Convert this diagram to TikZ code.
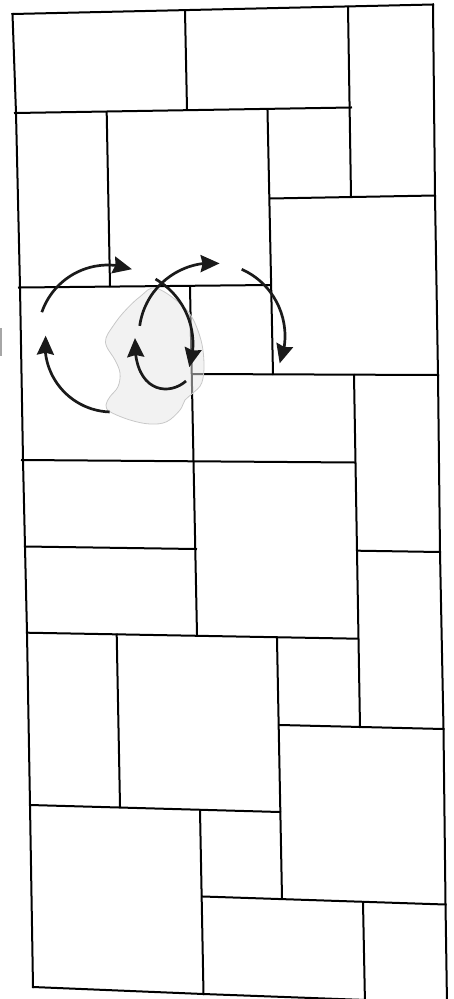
\documentclass[tikz,border=0pt]{standalone}
\usetikzlibrary{arrows.meta,bending}
\definecolor{arrowc}{HTML}{1A1A1A}
\definecolor{blobfill}{HTML}{E6E6E6}
\definecolor{blobline}{HTML}{C8C8C8}
\begin{document}
\begin{tikzpicture}[x=1pt,y=-1pt,
  tile/.style={line width=2pt, line join=miter, line cap=rect, black},
  circ/.style={line width=2.7pt, draw=arrowc, -{Stealth[length=19pt 0,width=17pt 0,inset=2pt]}},
  blob/.style={fill=blobfill, fill opacity=0.5, draw=blobline, line width=0.8pt}]
\useasboundingbox (0,0) rectangle (453,999);
\begin{scope}
\clip (0,0) rectangle (453,999);
% outer frame
\draw[tile] (12.5,14) -- (433,4.5);
\draw[tile] (12.5,14) -- (16,113) -- (20,287) -- (23,460) -- (25,547) -- (27,633) -- (30,805) -- (33,987);
\draw[tile] (433,4.5) -- (435,196) -- (438,375) -- (440,552) -- (443.5,729) -- (445.5,904) -- (447,1004);
\draw[tile] (33,987) -- (203.5,994) -- (447,1003);
% inner lines
\draw[tile] (185,11) -- (187,109.5);
\draw[tile] (348,7) -- (351,196);
\draw[tile] (15,113) -- (351,107.5);
\draw[tile] (106.7,113) -- (110,286);
\draw[tile] (267.5,110.5) -- (273,374);
\draw[tile] (270,198.5) -- (435,195.5);
\draw[tile] (19,287.5) -- (270,285);
\draw[tile] (190,287) -- (197,635);
\draw[tile] (193,374) -- (438,375);
\draw[tile] (22,460) -- (355,462.5);
\draw[tile] (354,375) -- (360,727);
\draw[tile] (25,546.5) -- (196,549);
\draw[tile] (358,550.7) -- (440,552);
\draw[tile] (27,632.7) -- (358,638.7);
\draw[tile] (116.7,634.5) -- (120,806);
\draw[tile] (277,639) -- (282,898);
\draw[tile] (280,725) -- (443.5,729);
\draw[tile] (30,805) -- (280,812);
\draw[tile] (200,810) -- (203.5,994);
\draw[tile] (203,896.5) -- (445.5,904.5);
\draw[tile] (363,902) -- (365,1004);
\end{scope}
% left edge mark
\draw[gray!70, line width=2pt] (1,328) -- (1,356);
% blob
\draw[blob] plot[smooth cycle, tension=0.6] coordinates {
  (156.7,288.3) (186.7,310) (200,336.7) (204,363) (201.7,383) (193,393)
  (185,400) (180,410) (166.7,421.7) (150,424) (130,420) (110,411.7)
  (106,405) (110,396.7) (118,386.7) (120,373) (115,360) (106.7,346.7)
  (106,338) (111.7,328) (123,313) (140,296.7)};
% circulation arrows
\draw[circ] ([shift={(92:67)}]112,345) arc[start angle=92, end angle=188, radius=67];
\draw[circ] ([shift={(199:70)}]108,335) arc[start angle=199, end angle=290, radius=70];
\draw[circ] ([shift={(188:73)}]212,336) arc[start angle=188, end angle=276, radius=73];
\draw[circ] ([shift={(294:73)}]212,336) arc[start angle=294, end angle=382, radius=73];
\draw[circ] ([shift={(300:75)}]118,344) arc[start angle=300, end angle=378, radius=75];
\draw[circ] (186,381) .. controls (168,397) and (133,392) .. (135,338);
\end{tikzpicture}
\end{document}
